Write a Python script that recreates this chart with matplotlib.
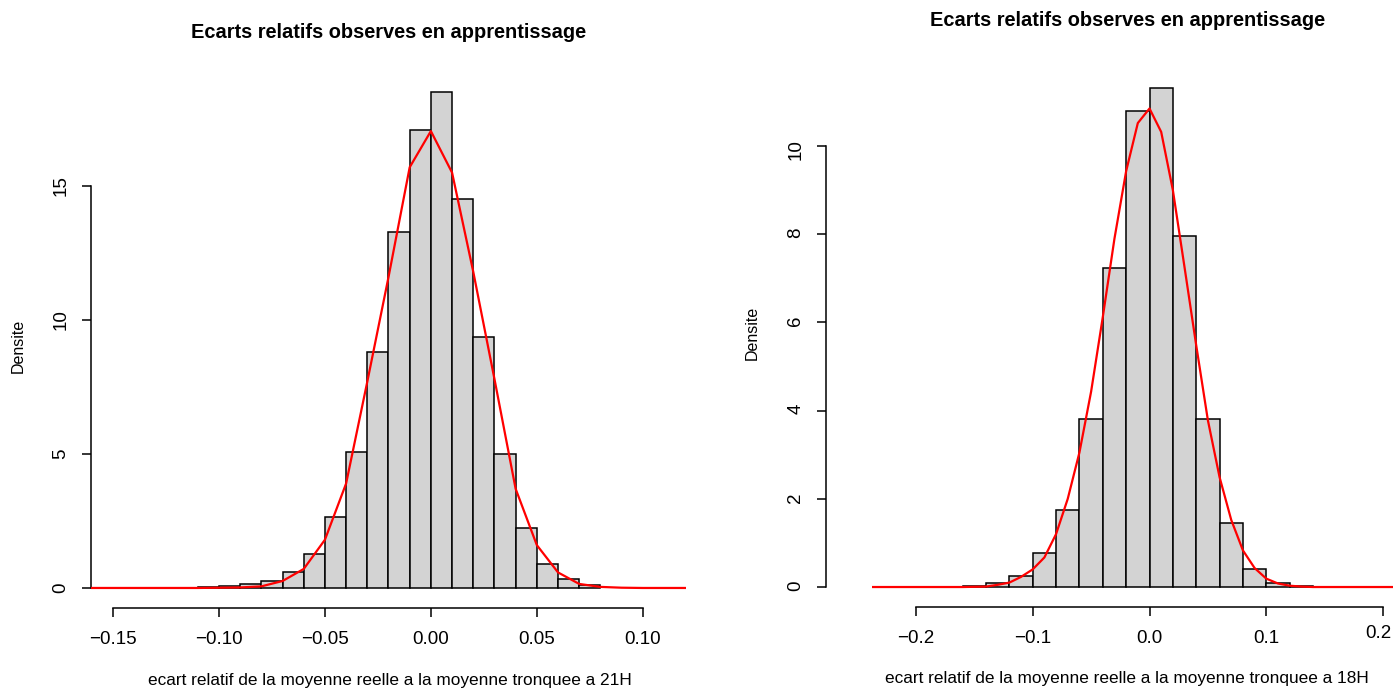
import numpy as np
import matplotlib
matplotlib.use("Agg")
import matplotlib.pyplot as plt
from matplotlib.transforms import ScaledTranslation

plt.rcParams['font.family'] = ['Liberation Sans', 'DejaVu Sans']

# --- donnees ---
# 21H : histogramme (pas 0.01) + courbe de densite
edges_21 = [-0.11, -0.10, -0.09, -0.08, -0.07, -0.06, -0.05, -0.04, -0.03, -0.02,
            -0.01, 0.00, 0.01, 0.02, 0.03, 0.04, 0.05, 0.06, 0.07, 0.08]
dens_21 = [0.05, 0.07, 0.13, 0.26, 0.61, 1.25, 2.65, 5.06, 8.79, 13.3,
           17.1, 18.5, 14.5, 9.37, 5.0, 2.24, 0.9, 0.35, 0.12]
curve_x_21 = [-0.17, -0.16, -0.15, -0.14, -0.13, -0.12, -0.11, -0.10, -0.09, -0.08,
              -0.07, -0.06, -0.05, -0.04, -0.03, -0.02, -0.01, 0.00, 0.01, 0.02,
              0.03, 0.04, 0.05, 0.06, 0.07, 0.08, 0.09, 0.10, 0.11, 0.12, 0.13]
curve_y_21 = [0.0, 0.0, 0.0, 0.0, 0.0, 0.0, 0.0, 0.01, 0.02, 0.06,
              0.26, 0.71, 1.8, 3.9, 7.7, 11.6, 15.7, 17.05, 15.5, 11.8,
              7.8, 3.7, 1.6, 0.58, 0.15, 0.04, 0.01, 0.0, 0.0, 0.0, 0.0]

# 18H : histogramme (pas 0.02) + courbe de densite
edges_18 = [-0.16, -0.14, -0.12, -0.10, -0.08, -0.06, -0.04, -0.02, 0.00,
            0.02, 0.04, 0.06, 0.08, 0.10, 0.12, 0.14]
dens_18 = [0.03, 0.1, 0.25, 0.77, 1.74, 3.82, 7.23, 10.79,
           11.32, 7.96, 3.82, 1.45, 0.41, 0.1, 0.03]
curve_x_18 = [-0.25, -0.24, -0.20, -0.16, -0.14, -0.13, -0.12, -0.11, -0.10, -0.09,
              -0.08, -0.07, -0.06, -0.05, -0.04, -0.03, -0.02, -0.01, 0.00, 0.01,
              0.02, 0.03, 0.04, 0.05, 0.06, 0.07, 0.08, 0.09, 0.10, 0.11,
              0.12, 0.13, 0.14, 0.18, 0.22, 0.25]
curve_y_18 = [0.0, 0.0, 0.0, 0.0, 0.01, 0.05, 0.1, 0.23, 0.4, 0.67,
              1.2, 2.0, 3.05, 4.43, 6.12, 7.9, 9.43, 10.52, 10.85, 10.32,
              9.0, 7.25, 5.48, 3.78, 2.49, 1.52, 0.83, 0.43, 0.19, 0.08,
              0.03, 0.01, 0.0, 0.0, 0.0, 0.0]

titre = "Ecarts relatifs observes en apprentissage"
xlab_21 = "ecart relatif de la moyenne reelle a la moyenne tronquee a 21H"
xlab_18 = "ecart relatif de la moyenne reelle a la moyenne tronquee a 18H"
xticks_21 = [-0.15, -0.10, -0.05, 0.00, 0.05, 0.10]
xtlab_21 = ["\u22120.15", "\u22120.10", "\u22120.05", "0.00", "0.05", "0.10"]
yticks_21 = [0, 5, 10, 15]
xticks_18 = [-0.2, -0.1, 0.0, 0.1, 0.2]
xtlab_18 = ["\u22120.2", "\u22120.1", "0.0", "0.1", "0.2"]
yticks_18 = [0, 2, 4, 6, 8, 10]

W, H = 1393, 690
fig = plt.figure(figsize=(W / 100, H / 100), dpi=100)


def px_axes(x0, x1, ytop, ybot):
    return fig.add_axes([x0 / W, 1 - ybot / H, (x1 - x0) / W, (ybot - ytop) / H])


def r_hist(ax, edges, dens, cx, cy, xlim, ylim, xticks, xtlab, yticks):
    e = np.array(edges)
    ax.bar(e[:-1], dens, width=np.diff(e), align='edge', color='#d3d3d3',
           edgecolor='black', linewidth=1.1, zorder=2)
    ax.plot(cx, cy, color='red', linewidth=1.6, zorder=3)
    ax.set_xlim(*xlim)
    ax.set_ylim(*ylim)
    for s in ['top', 'right']:
        ax.spines[s].set_visible(False)
    ax.spines['bottom'].set_bounds(xticks[0], xticks[-1])
    ax.spines['left'].set_bounds(yticks[0], yticks[-1])
    for s in ['bottom', 'left']:
        ax.spines[s].set_linewidth(1.1)
    ax.set_xticks(xticks)
    ax.set_xticklabels(xtlab)
    ax.set_yticks(yticks)
    ax.tick_params(length=6.5, width=1.1, labelsize=13.5, pad=10)
    ax.tick_params(axis='y', labelrotation=90, pad=9)
    for t in ax.get_yticklabels():
        t.set_va('center')


# panneau gauche (21H)
ax1 = px_axes(91, 686, 72.4, 607.8)
r_hist(ax1, edges_21, dens_21, curve_x_21, curve_y_21,
       (-0.1604, 0.1204), (-0.74, 19.24), xticks_21, xtlab_21, yticks_21)

# panneau droit (18H)
ax2 = px_axes(872, 1427, 67.8, 607)
r_hist(ax2, edges_18, dens_18, curve_x_18, curve_y_18,
       (-0.2376, 0.2376), (-0.453, 11.773), xticks_18, xtlab_18, yticks_18)
ax2.spines['left'].set_position(('axes', (826 - 872) / 555))
# le dernier libelle est rogne par le bord : on le decale vers l'interieur
last = ax2.get_xticklabels()[-1]
last.set_ha('right')
last.set_transform(last.get_transform() + ScaledTranslation(0.08, 0.05, fig.dpi_scale_trans))

# textes
fig.text(389 / W, 1 - 32 / H, titre, ha='center', va='center',
         fontsize=14.4, fontweight='bold')
fig.text(1128 / W, 1 - 20 / H, titre, ha='center', va='center',
         fontsize=14.4, fontweight='bold')
fig.text(390 / W, 1 - 681 / H, xlab_21, ha='center', va='center', fontsize=12.4)
fig.text(1127 / W, 1 - 679 / H, xlab_18, ha='center', va='center', fontsize=12.4)
fig.text(18 / W, 1 - 346 / H, "Densite", ha='center', va='center',
         rotation=90, fontsize=11.5)
fig.text(752 / W, 1 - 333 / H, "Densite", ha='center', va='center',
         rotation=90, fontsize=11.5)

fig.savefig("out.png", dpi=100)
